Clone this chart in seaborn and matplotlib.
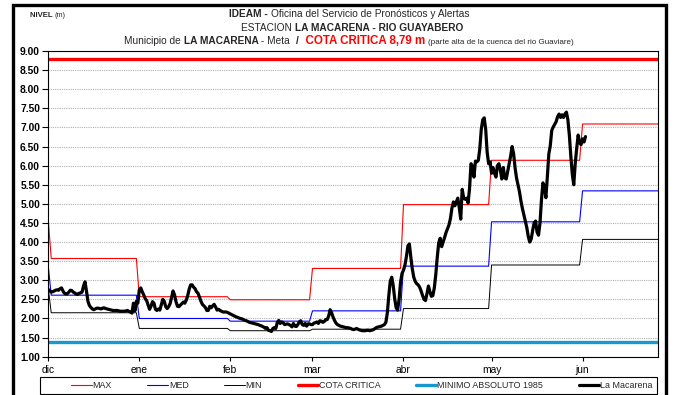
import numpy as np
import pandas as pd
import matplotlib
matplotlib.use("Agg")
import matplotlib.pyplot as plt
import seaborn as sns
from matplotlib.patches import Rectangle

sns.set_theme(style="white")
plt.rcParams["font.family"] = ["Liberation Sans", "DejaVu Sans"]

# ---------------------------------------------------------------- data
meses = ["dic", "ene", "feb", "mar", "abr", "may", "jun"]
inicio_meses = ["2010-12-01", "2011-01-01", "2011-02-01", "2011-03-01",
                "2011-04-01", "2011-05-01", "2011-06-01"]

# monthly historical levels (m)
nivel_max = [3.57, 2.57, 2.49, 3.31, 4.98, 6.14, 7.09]
nivel_med = [2.61, 2.00, 1.93, 2.20, 3.37, 4.53, 5.34]
nivel_min = [2.15, 1.74, 1.68, 1.72, 2.26, 3.40, 4.07]
# value of each curve on the first day of the series (MAX, MED, MIN)
primer_dia = [4.57, 3.36, 2.78]

cota_critica = 8.79
minimo_absoluto_1985 = 1.38

# La Macarena gauge readings, two per day starting 1 Dec
nivel_macarena = [
    2.76, 2.72, 2.69, 2.70, 2.72, 2.74, 2.75, 2.74, 2.78, 2.80,
    2.72, 2.66, 2.64, 2.65, 2.69, 2.74, 2.73, 2.69, 2.67, 2.64,
    2.63, 2.66, 2.67, 2.69, 2.85, 2.96, 2.72, 2.45, 2.34, 2.29,
    2.25, 2.23, 2.25, 2.27, 2.27, 2.26, 2.25, 2.27, 2.28, 2.26,
    2.25, 2.24, 2.23, 2.22, 2.21, 2.21, 2.21, 2.21, 2.20, 2.19,
    2.19, 2.19, 2.19, 2.20, 2.21, 2.18, 2.17, 2.14, 2.40, 2.20,
    2.45, 2.40, 2.75, 2.80, 2.70, 2.62, 2.52, 2.47, 2.35, 2.24,
    2.32, 2.44, 2.40, 2.24, 2.21, 2.25, 2.22, 2.36, 2.50, 2.45,
    2.31, 2.26, 2.31, 2.39, 2.55, 2.72, 2.62, 2.44, 2.32, 2.31,
    2.35, 2.39, 2.43, 2.40, 2.48, 2.60, 2.77, 2.88, 2.88, 2.82,
    2.78, 2.70, 2.66, 2.56, 2.45, 2.37, 2.33, 2.29, 2.21, 2.21,
    2.32, 2.28, 2.33, 2.37, 2.30, 2.22, 2.24, 2.21, 2.19, 2.17,
    2.17, 2.17, 2.16, 2.14, 2.12, 2.10, 2.08, 2.06, 2.04, 2.03,
    2.01, 2.00, 1.99, 1.97, 1.95, 1.94, 1.92, 1.90, 1.89, 1.88,
    1.87, 1.86, 1.85, 1.84, 1.82, 1.81, 1.79, 1.77, 1.74, 1.76,
    1.69, 1.68, 1.66, 1.74, 1.76, 1.74, 1.89, 1.95, 1.87, 1.91,
    1.89, 1.84, 1.85, 1.86, 1.84, 1.82, 1.78, 1.87, 1.80, 1.79,
    1.84, 1.91, 1.94, 1.84, 1.82, 1.87, 1.80, 1.86, 1.86, 1.84,
    1.84, 1.88, 1.89, 1.91, 1.87, 1.94, 1.93, 1.90, 1.92, 1.97,
    1.97, 2.06, 2.23, 2.15, 2.04, 1.95, 1.88, 1.84, 1.82, 1.80,
    1.79, 1.78, 1.77, 1.76, 1.76, 1.75, 1.74, 1.72, 1.71, 1.72,
    1.74, 1.72, 1.70, 1.69, 1.68, 1.68, 1.68, 1.69, 1.69, 1.68,
    1.69, 1.70, 1.72, 1.75, 1.77, 1.78, 1.79, 1.80, 1.82, 1.84,
    1.90, 2.15, 2.60, 2.98, 3.08, 2.86, 2.52, 2.28, 2.22, 2.50,
    2.95, 3.18, 3.26, 3.40, 3.62, 3.90, 3.95, 3.60, 3.30, 3.08,
    2.97, 2.91, 2.88, 2.82, 2.72, 2.60, 2.50, 2.47, 2.65, 2.85,
    2.70, 2.58, 2.60, 2.80, 3.15, 3.60, 3.98, 4.10, 3.88, 4.00,
    4.12, 4.25, 4.35, 4.45, 4.62, 4.89, 5.05, 4.95, 5.05, 5.15,
    4.90, 4.60, 5.38, 5.15, 5.12, 5.15, 5.02, 5.40, 6.05, 5.98,
    5.70, 6.12, 6.10, 6.14, 6.45, 6.95, 7.20, 7.25, 6.95, 6.35,
    6.05, 6.10, 5.80, 5.95, 5.80, 5.70, 6.00, 6.05, 5.88, 5.65,
    5.95, 5.68, 5.65, 5.85, 6.05, 6.25, 6.50, 6.32, 5.95, 5.68,
    5.50, 5.32, 5.08, 4.88, 4.72, 4.55, 4.38, 4.15, 4.00, 4.08,
    4.30, 4.50, 4.55, 4.26, 4.18, 4.50, 5.10, 5.55, 5.45, 5.16,
    5.70, 6.30, 6.52, 6.92, 7.01, 7.08, 7.15, 7.28, 7.35, 7.26,
    7.33, 7.26, 7.35, 7.40, 7.20, 6.80, 6.25, 5.78, 5.50, 6.05,
    6.45, 6.80, 6.60, 6.55, 6.70, 6.62, 6.76,
]

# ------------------------------------------------------- daily tables
inicio = pd.to_datetime(inicio_meses)
dias = pd.date_range("2010-12-01", "2011-06-30", freq="D")
mes_idx = np.searchsorted(inicio.values, dias.values, side="right") - 1


def curva_diaria(valores_mes, valor_inicial):
    serie = np.asarray(valores_mes, dtype=float)[mes_idx]
    serie[0] = valor_inicial
    return serie


historico = pd.DataFrame({
    "fecha": dias,
    "MAX": curva_diaria(nivel_max, primer_dia[0]),
    "MED": curva_diaria(nivel_med, primer_dia[1]),
    "MIN": curva_diaria(nivel_min, primer_dia[2]),
})
lecturas = pd.DataFrame({
    "fecha": pd.date_range("2010-12-01", periods=len(nivel_macarena), freq="12h"),
    "nivel": nivel_macarena,
})

# ---------------------------------------------------------------- figure
W, H = 677, 395
fig = plt.figure(figsize=(W / 100, H / 100), dpi=100)
ax = fig.add_axes([48.3 / W, 1 - 356.7 / H, (658 - 48.3) / W, (356.7 - 51) / H])

sns.lineplot(data=historico, x="fecha", y="MAX", ax=ax, color="#ff0000",
             linewidth=0.8, label="MAX")
sns.lineplot(data=historico, x="fecha", y="MED", ax=ax, color="#0000ff",
             linewidth=0.8, label="MED")
sns.lineplot(data=historico, x="fecha", y="MIN", ax=ax, color="#000000",
             linewidth=0.7, label="MIN")
ax.axhline(cota_critica, color="#ff0000", linewidth=2.4, label="COTA CRITICA")
ax.axhline(minimo_absoluto_1985, color="#1798d0", linewidth=2.4,
           label="MINIMO ABSOLUTO 1985")
sns.lineplot(data=lecturas, x="fecha", y="nivel", ax=ax, color="#000000",
             linewidth=2.3, label="La Macarena")

ax.set_xlim(inicio[0], inicio[0] + pd.Timedelta(days=207.7))
ax.set_ylim(1, 9)
ax.set_xlabel("")
ax.set_ylabel("")

yt = np.arange(1.0, 9.01, 0.5)
ax.set_yticks(yt)
ax.set_yticklabels([f"{v:.2f}" for v in yt], fontsize=7.4, fontweight="bold")
ax.set_xticks(inicio)
ax.set_xticklabels(meses, fontsize=7.4)
ax.tick_params(axis="y", direction="out", length=4, width=0.8, pad=2,
               colors="black", left=True)
ax.tick_params(axis="x", direction="out", length=3, width=0.8, pad=3,
               colors="black", bottom=True)
ax.yaxis.grid(True, linestyle=(0, (1, 1)), color="#b0b0b0", linewidth=0.8)
ax.xaxis.grid(False)
for sp in ax.spines.values():
    sp.set_visible(True)
    sp.set_color("black")
    sp.set_linewidth(0.8)

# legend: entries centred in a full-width box below the plot
handles, labels = ax.get_legend_handles_labels()
leg = ax.legend(handles, labels, loc="center",
                bbox_to_anchor=(362 / W, 1 - 385.5 / H),
                bbox_transform=fig.transFigure, ncol=6, frameon=False,
                fontsize=6.4, handlelength=2.3, handletextpad=0.1,
                columnspacing=4.0, borderpad=0, borderaxespad=0)
fig.patches.append(Rectangle((40 / W, 1 - 393.5 / H), 617 / W, 16.5 / H,
                             transform=fig.transFigure, fill=False,
                             edgecolor="black", linewidth=0.8))

# outer frame of the chart
fig.patches.append(Rectangle((12.5 / W, -0.05), (666 - 12.5) / W, 1.05 - 5 / H,
                             transform=fig.transFigure, fill=False,
                             edgecolor="black", linewidth=2.4, clip_on=False))

# ---------------------------------------------------------------- titles
renderer = fig.canvas.get_renderer()


def linea_rica(piezas, y_px, cx_px=None, x_px=None):
    textos = []
    for s, kw in piezas:
        t = fig.text(0, 1 - y_px / H, s, ha="left", va="baseline", **kw)
        textos.append(t)
    anchos = [t.get_window_extent(renderer).width for t in textos]
    x = x_px if x_px is not None else cx_px - sum(anchos) / 2
    for t, w in zip(textos, anchos):
        t.set_x(x / W)
        x += w


linea_rica([("NIVEL ", dict(fontsize=5.6, fontweight="bold")),
            ("(m)", dict(fontsize=5.2))], 17.3, x_px=30)
linea_rica([("IDEAM - ", dict(fontsize=7.3, fontweight="bold")),
            ("Oficina del Servicio de Pronósticos y Alertas", dict(fontsize=7.3))],
           17.3, cx_px=349)
linea_rica([("ESTACION ", dict(fontsize=7.3)),
            ("LA MACARENA - RIO GUAYABERO", dict(fontsize=7.3, fontweight="bold"))],
           30.7, cx_px=352)
linea_rica([("Municipio de ", dict(fontsize=7.3)),
            ("LA MACARENA", dict(fontsize=7.3, fontweight="bold")),
            (" - Meta  ", dict(fontsize=7.3)),
            ("/", dict(fontsize=7.3, fontweight="bold")),
            ("  COTA CRITICA 8,79 m ", dict(fontsize=8.3, fontweight="bold", color="#ff0000")),
            ("(parte alta de la cuenca del rio Guaviare)", dict(fontsize=5.8))],
           44, cx_px=349)

fig.savefig("out.png", dpi=100)
